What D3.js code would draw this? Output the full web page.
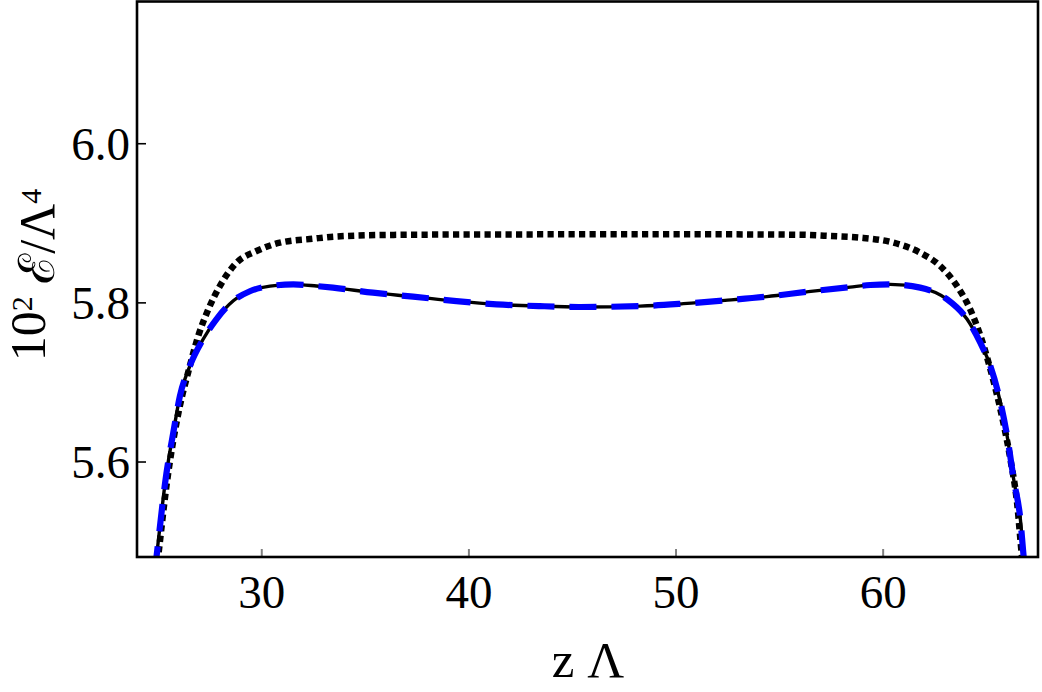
<!DOCTYPE html>
<html>
<head>
<meta charset="utf-8">
<script src="https://cdn.jsdelivr.net/npm/d3@7"></script>
<style>
  body { margin: 0; background: #fff; }
  svg { display: block; }
  text { font-family: "Liberation Serif", "Times New Roman", serif; fill: #000; }
</style>
</head>
<body>
<div id="chart"></div>
<script>
// Data
const xTicks = [30, 40, 50, 60];
const yTicks = [5.6, 5.8, 6.0];

// solid black line (the blue dashed line follows the same values)
const zSolid = [24.85, 24.94, 25.42, 25.75, 26.07, 26.55, 27.2, 27.84, 28.65, 29.45, 30.42, 31.55, 32.67, 33.46, 35.39, 37.33, 39.42, 41.36, 43.45, 45.4, 48.28, 50.38, 52.39, 54.41, 56.42, 58.43, 59.4, 60.36, 61.81, 63.11, 64.07, 64.72, 65.2, 65.69, 66.01, 66.33, 66.65, 66.81, 66.9];
const eSolid = [5.46, 5.48, 5.585, 5.636, 5.682, 5.72, 5.754, 5.779, 5.802, 5.814, 5.8205, 5.8226, 5.8205, 5.8185, 5.8122, 5.8072, 5.8016, 5.7975, 5.7953, 5.7942, 5.7953, 5.7984, 5.8025, 5.8072, 5.8135, 5.8192, 5.8218, 5.8226, 5.8185, 5.8038, 5.779, 5.749, 5.72, 5.674, 5.632, 5.577, 5.527, 5.48, 5.46];

// blue dashed line
const zDashed = zSolid;
const eDashed = eSolid;

// black dotted line
const zDotted = [24.93, 25.02, 25.42, 26.07, 26.47, 26.96, 27.44, 28.0, 28.81, 29.77, 30.9, 32.51, 33.5, 36.0, 40.0, 46.0, 52.0, 56.0, 57.5, 58.91, 60.53, 61.81, 62.78, 63.59, 64.23, 64.72, 65.2, 65.69, 66.17, 66.49, 66.73, 66.82];
const eDotted = [5.46, 5.48, 5.569, 5.67, 5.712, 5.758, 5.791, 5.8205, 5.85, 5.8645, 5.875, 5.88, 5.8826, 5.8847, 5.8853, 5.8855, 5.8855, 5.885, 5.8834, 5.8814, 5.875, 5.8625, 5.8457, 5.8205, 5.791, 5.758, 5.716, 5.665, 5.6025, 5.548, 5.48, 5.46];

const W = 1042, H = 692;
const plot = { left: 137, right: 1038, top: 1.5, bottom: 557 };

const svg = d3.select("#chart").append("svg")
  .attr("width", W)
  .attr("height", H);

const x = d3.scaleLinear().domain([24, 67.5]).range([plot.left, plot.right]);
const y = d3.scaleLinear().domain([5.48, 6.18]).range([plot.bottom, 0]);

svg.append("clipPath").attr("id", "clip")
  .append("rect")
  .attr("x", plot.left)
  .attr("y", plot.top)
  .attr("width", plot.right - plot.left)
  .attr("height", plot.bottom - plot.top);

const line = d3.line()
  .x(d => x(d[0]))
  .y(d => y(d[1]))
  .curve(d3.curveMonotoneX);

const curves = svg.append("g").attr("clip-path", "url(#clip)");

// dotted curve
curves.append("path")
  .datum(d3.zip(zDotted, eDotted))
  .attr("d", line)
  .attr("fill", "none")
  .attr("stroke", "#000")
  .attr("stroke-width", 6.5)
  .attr("stroke-dasharray", "6.2,4.3");

// solid curve
curves.append("path")
  .datum(d3.zip(zSolid, eSolid))
  .attr("d", line)
  .attr("fill", "none")
  .attr("stroke", "#000")
  .attr("stroke-width", 3.4);

// blue dashed curve on top
curves.append("path")
  .datum(d3.zip(zDashed, eDashed))
  .attr("d", line)
  .attr("fill", "none")
  .attr("stroke", "#0000ff")
  .attr("stroke-width", 6.2)
  .attr("stroke-dasharray", "27,15");

// Axes: ticks point inward, bottom ticks are grey
const xAxis = svg.append("g")
  .attr("transform", "translate(0," + plot.bottom + ")")
  .call(d3.axisBottom(x).tickValues(xTicks).tickSize(-8).tickFormat(d3.format("d")).tickPadding(0));
xAxis.select(".domain").remove();
xAxis.selectAll(".tick line").attr("stroke", "#808080").attr("stroke-width", 2);
xAxis.selectAll(".tick text")
  .attr("y", 51)
  .attr("dy", null)
  .style("font-size", "47px");

const yAxis = svg.append("g")
  .attr("transform", "translate(" + plot.left + ",0)")
  .call(d3.axisLeft(y).tickValues(yTicks).tickSize(-9).tickFormat(d3.format(".1f")).tickPadding(0));
yAxis.select(".domain").remove();
yAxis.selectAll(".tick line").attr("stroke", "#000").attr("stroke-width", 1.6);
yAxis.selectAll(".tick text")
  .attr("x", -7)
  .attr("dy", "0.34em")
  .style("font-size", "47px");

// frame
svg.append("rect")
  .attr("x", plot.left)
  .attr("y", plot.top)
  .attr("width", plot.right - plot.left)
  .attr("height", plot.bottom - plot.top)
  .attr("fill", "none")
  .attr("stroke", "#000")
  .attr("stroke-width", 2.6);

// axis labels
svg.append("text")
  .attr("x", 588)
  .attr("y", 677)
  .attr("text-anchor", "middle")
  .style("font-size", "51px")
  .text("z \u039B");

const yLabel = svg.append("text")
  .attr("transform", "translate(45,275) rotate(-90)")
  .attr("text-anchor", "middle")
  .style("font-size", "50px");
yLabel.append("tspan").text("10");
yLabel.append("tspan").attr("dy", "-0.45em").style("font-size", "30px").text("2");
yLabel.append("tspan").attr("dy", "0.45em").text(" \u2130/\u039B");
yLabel.append("tspan").attr("dy", "-0.45em").style("font-size", "30px").text("4");
</script>
</body>
</html>
